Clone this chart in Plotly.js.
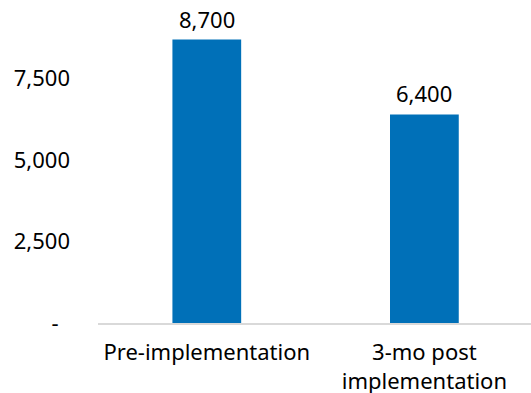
<!DOCTYPE html>
<html>
<head>
<meta charset="utf-8">
<script src="https://cdn.plot.ly/plotly-3.0.1.min.js"></script>
<style>
  html, body { margin: 0; padding: 0; background: #fff; }
  #chart { width: 531px; height: 393px; }
</style>
</head>
<body>
<div id="chart"></div>
<script>
// Monthly volume before and three months after implementation
const categories = ["Pre-implementation", "3-mo post<br>implementation"];
const values = [8700, 6400];
const yTickValues = [0, 2500, 5000, 7500];
const yTickLabels = ["-\u00a0\u00a0", "2,500", "5,000", "7,500"];

const FONT = "'Noto Sans', 'Open Sans', sans-serif";
const fmt = v => v.toLocaleString("en-US");

const trace = {
  type: "bar",
  x: categories,
  y: values,
  width: 0.316,
  marker: { color: "#0070b8" },
  hoverinfo: "skip"
};

const annotations = categories.map((c, i) => ({
  x: c,
  y: values[i],
  xref: "x",
  yref: "y",
  text: fmt(values[i]),
  showarrow: false,
  yanchor: "bottom",
  yshift: 4,
  font: { family: FONT, size: 22, color: "#000" }
}));

const layout = {
  width: 531,
  height: 393,
  margin: { l: 98, r: 0, t: 20, b: 70 },
  paper_bgcolor: "#fff",
  plot_bgcolor: "#fff",
  showlegend: false,
  font: { family: FONT, size: 22, color: "#000" },
  xaxis: {
    type: "category",
    range: [-0.5, 1.49],
    showgrid: false,
    zeroline: false,
    showline: true,
    linecolor: "#d9d9d9",
    linewidth: 1.5,
    ticks: "",
    ticklabelstandoff: 9,
    tickfont: { family: FONT, size: 22, color: "#000" },
    fixedrange: true
  },
  yaxis: {
    range: [0, 9300],
    tickvals: yTickValues,
    ticktext: yTickLabels,
    showgrid: false,
    zeroline: false,
    showline: false,
    ticks: "",
    ticklabelstandoff: 27,
    tickfont: { family: FONT, size: 22, color: "#000" },
    fixedrange: true
  },
  annotations: annotations
};

Plotly.newPlot("chart", [trace], layout, { displayModeBar: false, staticPlot: true });
</script>
</body>
</html>
